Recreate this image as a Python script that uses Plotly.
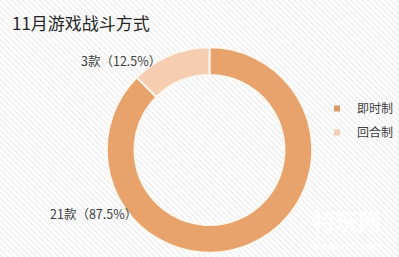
import plotly.graph_objects as go

categories = ["即时制", "回合制"]
counts = [21, 3]
colors = ["#E8A26B", "#F7CDB2"]
legend_colors = ["#D99A68", "#F5CDB6"]

W, H = 399, 257
total = sum(counts)
label_texts = [f"{c}款（{c/total*100:.1f}%）" for c in counts]

fig = go.Figure()
# hatched background
fig.add_trace(go.Bar(
    x=[0.5], y=[1], width=[1], showlegend=False, hoverinfo="skip",
    marker=dict(color="#FFFFFF", line=dict(width=0),
                pattern=dict(shape="\\", fgcolor="#D9D9D9", bgcolor="#FFFFFF",
                             size=4, solidity=0.35)),
    xaxis="x", yaxis="y",
))
fig.add_trace(go.Pie(
    labels=categories,
    values=counts,
    hole=0.73,
    sort=False,
    direction="clockwise",
    rotation=0,
    marker=dict(colors=colors, line=dict(color="#FFF6EE", width=2)),
    textinfo="none",
    hoverinfo="label+value+percent",
    domain=dict(x=[107 / W, 313 / W], y=[1 - 253 / H, 1 - 47 / H]),
    showlegend=False,
))
# legend entries with small square markers
for cat, col in zip(categories, legend_colors):
    fig.add_trace(go.Scatter(
        x=[None], y=[None], mode="markers", name=cat, legendgroup=cat,
        marker=dict(symbol="square", size=6, color=col),
    ))

# outside labels
label_pos = [(94 / W, 1 - 213 / H), (121 / W, 1 - 60 / H)]
for txt, (lx, ly) in zip(label_texts, label_pos):
    fig.add_annotation(x=lx, y=ly, xref="paper", yref="paper", text=txt,
                       showarrow=False, xanchor="center", yanchor="middle",
                       font=dict(size=12.5, color="#404040",
                                 family="Noto Sans CJK SC, sans-serif"))

# title
fig.add_annotation(x=10 / W, y=1 - 22 / H, xref="paper", yref="paper",
                   text="11月游戏战斗方式", showarrow=False,
                   xanchor="left", yanchor="middle",
                   font=dict(size=17, color="#262626",
                             family="Noto Sans CJK SC, sans-serif"))

# watermark
fig.add_annotation(x=347 / W, y=1 - 238 / H, xref="paper", yref="paper",
                   text="<b>特玩网</b>", showarrow=False,
                   xanchor="center", yanchor="bottom", borderpad=0,
                   font=dict(size=23, color="rgba(255,255,255,0.92)",
                             family="Noto Sans CJK SC, sans-serif"))
fig.add_annotation(x=348 / W, y=1 - 239 / H, xref="paper", yref="paper",
                   text="<b>www.te5.com</b>", showarrow=False,
                   xanchor="center", yanchor="top", borderpad=0,
                   font=dict(size=11, color="rgba(255,255,255,0.95)",
                             family="Liberation Sans, sans-serif"))

fig.update_layout(
    width=W, height=H,
    margin=dict(l=0, r=0, t=0, b=0),
    paper_bgcolor="#F2F2F2",
    plot_bgcolor="rgba(0,0,0,0)",
    xaxis=dict(visible=False, range=[0, 1], fixedrange=True),
    yaxis=dict(visible=False, range=[0, 1], fixedrange=True),
    bargap=0,
    legend=dict(x=318 / W, y=1 - 94 / H, xanchor="left", yanchor="top",
                font=dict(size=12, color="#404040",
                          family="Noto Sans CJK SC, sans-serif"),
                bgcolor="rgba(0,0,0,0)", itemwidth=30, tracegroupgap=5,
                traceorder="grouped"),
)

fig.write_html("out.html")
